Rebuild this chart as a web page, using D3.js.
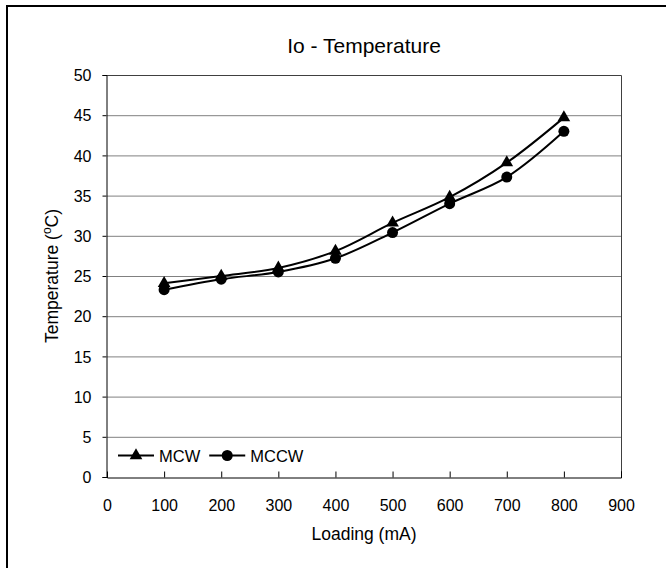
<!DOCTYPE html>
<html>
<head>
  <meta charset="utf-8">
  <script src="https://d3js.org/d3.v7.min.js"></script>
  <style>
    body { margin: 0; background: #fff; }
    text { font-family: "Liberation Sans", Arial, sans-serif; fill: #000; }
  </style>
</head>
<body>
  <script type="text/javascript">
      var loading = [100, 200, 300, 400, 500, 600, 700, 800];
      var mcw = [24.1, 25.0, 26.0, 28.1, 31.6, 34.8, 39.1, 44.7];
      var mccw = [23.3, 24.6, 25.5, 27.2, 30.4, 34.0, 37.3, 43.0];
      var xTicks = [0, 100, 200, 300, 400, 500, 600, 700, 800, 900];
      var yTicks = [0, 5, 10, 15, 20, 25, 30, 35, 40, 45, 50];

      var width = 666,
          height = 568;

      var svg = d3.select("body")
        .append("svg")
          .attr("width", width)
          .attr("height", height);

      // outer frame (only top/left visible in the crop)
      svg.append("rect")
          .attr("x", 7).attr("y", 6)
          .attr("width", 800).attr("height", 800)
          .style("fill", "none")
          .style("stroke", "#000")
          .style("stroke-width", 2);

      var pL = 107, pR = 621, pT = 75, pB = 477;

      var x = d3.scaleLinear().domain([0, 900]).range([pL, pR]);
      var y = d3.scaleLinear().domain([0, 50]).range([pB, pT]);

      // grid lines
      svg.append("g")
        .selectAll("line")
        .data(yTicks.filter(function(d) { return d > 0 && d < 50; }))
        .enter().append("line")
          .attr("x1", pL).attr("x2", pR)
          .attr("y1", function(d) { return y(d) + 0.5; })
          .attr("y2", function(d) { return y(d) + 0.5; })
          .style("stroke", "#808080")
          .style("stroke-width", 1);

      // plot frame: top and right
      svg.append("path")
          .attr("d", "M" + pL + "," + (pT + 0.5) + "H" + (pR + 0.5) + "V" + pB)
          .style("fill", "none")
          .style("stroke", "#404040")
          .style("stroke-width", 1);

      var xAxis = svg.append("g")
          .attr("transform", "translate(0," + (pB + 0.5) + ")")
          .call(d3.axisBottom(x).tickValues(xTicks).tickSize(-6));
      var yAxis = svg.append("g")
          .attr("transform", "translate(" + (pL - 0.5) + ",0)")
          .call(d3.axisLeft(y).tickValues(yTicks).tickSize(4).tickPadding(11));

      [xAxis, yAxis].forEach(function(a) {
          a.select(".domain").style("stroke", "#000");
          a.selectAll(".tick line").style("stroke", "#000");
          a.selectAll("text")
            .style("font-family", "'Liberation Sans', Arial, sans-serif")
            .style("font-size", "16px")
            .style("fill", "#000");
      });
      xAxis.selectAll(".tick").filter(function(d) { return d === 0; }).select("line").remove();
      xAxis.selectAll(".tick text").attr("dy", "0").attr("y", 33);
      yAxis.selectAll(".tick text").attr("dy", "0.35em");

      // title + axis labels
      svg.append("text")
          .attr("x", (pL + pR) / 2).attr("y", 53)
          .style("text-anchor", "middle")
          .style("font-size", "21px")
          .text("Io - Temperature");

      svg.append("text")
          .attr("x", (pL + pR) / 2).attr("y", 540)
          .style("text-anchor", "middle")
          .style("font-size", "17.5px")
          .text("Loading (mA)");

      var yl = svg.append("text")
          .attr("transform", "translate(58," + ((pT + pB) / 2) + ") rotate(-90)")
          .style("text-anchor", "middle")
          .style("font-size", "17.5px");
      yl.append("tspan").text("Temperature (");
      yl.append("tspan").attr("dy", "-7").style("font-size", "12px").text("o");
      yl.append("tspan").attr("dy", "7").text("C)");

      // series
      var series = [
          {name: "MCW", values: mcw, symbol: d3.symbolTriangle, size: 70},
          {name: "MCCW", values: mccw, symbol: d3.symbolCircle, size: 95}
      ];

      var line = d3.line()
          .x(function(d) { return x(d[0]); })
          .y(function(d) { return y(d[1]); })
          .curve(d3.curveCatmullRom.alpha(0.5));

      series.forEach(function(s) {
          var pts = loading.map(function(l, i) { return [l, s.values[i]]; });
          svg.append("path")
              .attr("d", line(pts))
              .style("fill", "none")
              .style("stroke", "#000")
              .style("stroke-width", 2);
          svg.append("g")
            .selectAll("path")
            .data(pts)
            .enter().append("path")
              .attr("transform", function(d) { return "translate(" + x(d[0]) + "," + y(d[1]) + ")"; })
              .attr("d", d3.symbol().type(s.symbol).size(s.size))
              .style("fill", "#000");
      });

      // legend
      var lg = svg.append("g").attr("transform", "translate(118,455.5)");
      var lx = 0;
      series.forEach(function(s) {
          var g = lg.append("g").attr("transform", "translate(" + lx + ",0)");
          g.append("line").attr("x1", 0).attr("x2", 36).attr("y1", 0).attr("y2", 0)
              .style("stroke", "#000").style("stroke-width", 2);
          g.append("path").attr("transform", "translate(18,0)")
              .attr("d", d3.symbol().type(s.symbol).size(s.size))
              .style("fill", "#000");
          var t = g.append("text").attr("x", 41).attr("y", 6.5)
              .style("font-size", "16.5px").text(s.name);
          lx += 41 + t.node().getComputedTextLength() + 9;
      });
  </script>
</body>
</html>
